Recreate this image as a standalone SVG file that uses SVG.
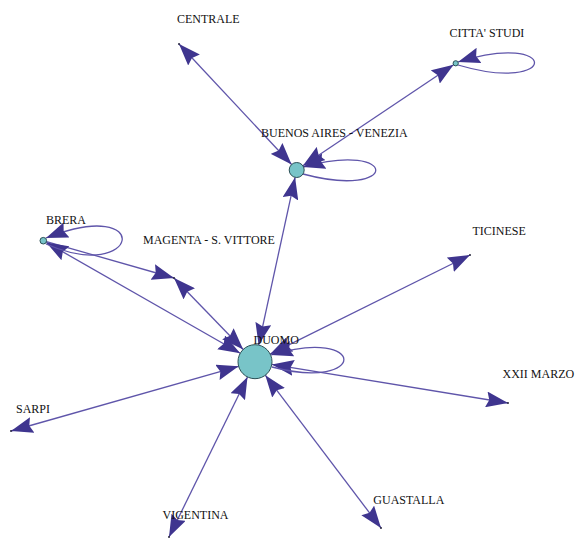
<svg xmlns="http://www.w3.org/2000/svg" width="577" height="539" viewBox="0 0 577 539">
  <style>
    .lbl { font-family: "Liberation Serif", "Times New Roman", serif; font-size: 12px; fill: #111; }
    .edge { fill: none; stroke: #5f55aa; stroke-width: 1.3; marker-start: url(#ah); marker-end: url(#ah); }
    .loop { fill: none; stroke: #5f55aa; stroke-width: 1.3; marker-end: url(#ah); }
    .oneway { fill: none; stroke: #5f55aa; stroke-width: 1.3; marker-end: url(#ah); }
    .node { fill: #78c4c8; stroke: #2b4f55; stroke-width: 1; }
    .pt { fill: #2b2b40; }
  </style>
  <defs>
    <marker id="ah" viewBox="0 0 22 16" markerWidth="22" markerHeight="16" refX="22" refY="8" orient="auto-start-reverse" markerUnits="userSpaceOnUse">
      <path d="M0,0 L22,8 L0,16 L3,8 Z" fill="#3f358f"/>
    </marker>
  </defs>
  <rect width="577" height="539" fill="#ffffff"/>

  <g id="connectors">
    <!-- CENTRALE - BUENOS AIRES -->
    <path class="edge" d="M179,44 L291.6,164.5"/>
    <!-- CITTA' STUDI - BUENOS AIRES -->
    <path class="edge" d="M302.9,165.8 L453.6,64.7"/>
    <!-- BUENOS AIRES - DUOMO -->
    <path class="edge" d="M295.1,177.3 L258.6,345.1"/>
    <!-- BRERA -> MAGENTA -->
    <path class="oneway" d="M46.5,241.6 L174,278"/>
    <!-- MAGENTA - DUOMO -->
    <path class="edge" d="M174,278 L243.2,349.5"/>
    <!-- BRERA - DUOMO -->
    <path class="edge" d="M46.3,242.4 L240.2,353.3"/>
    <!-- TICINESE - DUOMO -->
    <path class="edge" d="M470,255 L270.2,354.1"/>
    <!-- XXII MARZO - DUOMO -->
    <path class="edge" d="M508,403 L271.8,364.4"/>
    <!-- SARPI - DUOMO -->
    <path class="edge" d="M11,431 L238.6,366.3"/>
    <!-- VIGENTINA - DUOMO -->
    <path class="edge" d="M169,537 L247.5,377"/>
    <!-- GUASTALLA - DUOMO -->
    <path class="edge" d="M381,528 L265.3,375.2"/>
    <!-- self loops -->
    <path class="loop" d="M46,244 C140,285 155,195 46,238"/>
    <path class="loop" d="M458,65 C560,95 560,30 458,62"/>
    <path class="loop" d="M303,174 C400,200 400,140 303,167"/>
    <path class="loop" d="M272,367 C368,392 368,326 271,355"/>
  </g>

  <g id="node-centrale">
    <circle class="pt" cx="179" cy="44" r="1"/>
    <text class="lbl" x="177" y="22.5">CENTRALE</text>
  </g>
  <g id="node-citta-studi">
    <circle class="node" cx="455.7" cy="63.3" r="2.6"/>
    <text class="lbl" x="449.5" y="36.7">CITTA' STUDI</text>
  </g>
  <g id="node-buenos-aires">
    <circle class="node" cx="296.7" cy="170" r="7.5"/>
    <text class="lbl" x="261" y="136.5">BUENOS AIRES - VENEZIA</text>
  </g>
  <g id="node-brera">
    <circle class="node" cx="43.3" cy="240.7" r="3.3"/>
    <text class="lbl" x="46" y="224">BRERA</text>
  </g>
  <g id="node-magenta">
    <circle class="pt" cx="174" cy="278" r="1"/>
    <text class="lbl" x="143" y="243.5">MAGENTA - S. VITTORE</text>
  </g>
  <g id="node-ticinese">
    <circle class="pt" cx="470" cy="255" r="1"/>
    <text class="lbl" x="472.5" y="235">TICINESE</text>
  </g>
  <g id="node-duomo">
    <circle class="node" cx="255" cy="361.7" r="17"/>
    <text class="lbl" x="253.5" y="344.3">DUOMO</text>
  </g>
  <g id="node-xxii-marzo">
    <circle class="pt" cx="508" cy="403" r="1"/>
    <text class="lbl" x="502.5" y="378.3">XXII MARZO</text>
  </g>
  <g id="node-sarpi">
    <circle class="pt" cx="11" cy="431" r="1"/>
    <text class="lbl" x="16" y="413.3">SARPI</text>
  </g>
  <g id="node-vigentina">
    <circle class="pt" cx="169" cy="537" r="1"/>
    <text class="lbl" x="162.5" y="519">VIGENTINA</text>
  </g>
  <g id="node-guastalla">
    <circle class="pt" cx="381" cy="528" r="1"/>
    <text class="lbl" x="373.3" y="504">GUASTALLA</text>
  </g>
</svg>
